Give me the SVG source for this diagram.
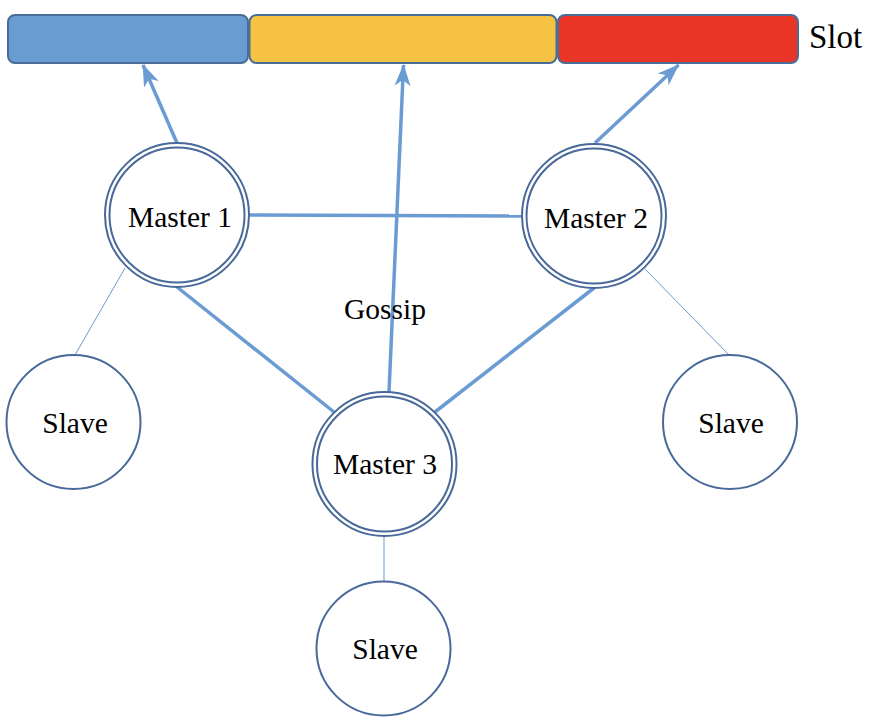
<svg xmlns="http://www.w3.org/2000/svg" width="874" height="724" viewBox="0 0 874 724">
<defs>
<style>
.bar{stroke:#4a6d98;stroke-width:2}
.ring{fill:#fff;stroke:#48699a;stroke-width:2}
.ring2{fill:none;stroke:#48699a;stroke-width:2}
.thick{stroke:#6b9bd3;stroke-width:3.5;fill:none}
.thin{stroke:#6b9bd3;stroke-width:1;fill:none}
.lbl{font-family:"Liberation Serif","Times New Roman",serif;font-size:29.5px;fill:#000;text-anchor:middle}
.slot{font-family:"Liberation Serif","Times New Roman",serif;font-size:33px;fill:#000}
</style>
<marker id="ah" viewBox="0 0 22 16" refX="21" refY="8" markerWidth="22" markerHeight="16" orient="auto" markerUnits="userSpaceOnUse" overflow="visible">
<path d="M0,0 L22,8 L0,16 L6,8 z" fill="#6b9bd3"/>
</marker>
</defs>
<rect width="874" height="724" fill="#fff"/>
<g id="slots">
<rect class="bar" x="8" y="15" width="240" height="48" rx="7" fill="#699cd0"/>
<rect class="bar" x="249.5" y="15" width="307" height="48" rx="7" fill="#f5c243"/>
<rect class="bar" x="558" y="15" width="240" height="48" rx="7" fill="#e93525"/>
<text class="slot" x="809" y="48">Slot</text>
</g>
<g id="connectors">
<line class="thin" x1="125" y1="268" x2="75" y2="355"/>
<line class="thin" x1="645" y1="269" x2="729" y2="355"/>
<line class="thin" x1="384" y1="537" x2="384" y2="582"/>
<line class="thick" x1="249" y1="215" x2="522" y2="216"/>
<line class="thick" x1="177" y1="287" x2="334" y2="412"/>
<line class="thick" x1="594" y1="288" x2="435" y2="412"/>
<line class="thick" x1="389" y1="392" x2="403.5" y2="65" marker-end="url(#ah)"/>
<line class="thick" x1="177" y1="143" x2="143" y2="65" marker-end="url(#ah)"/>
<line class="thick" x1="595" y1="143" x2="678.5" y2="65" marker-end="url(#ah)"/>
<text class="lbl" x="385" y="319">Gossip</text>
</g>
<g id="master1">
<circle class="ring" cx="177" cy="215" r="72"/>
<circle class="ring2" cx="177" cy="215" r="67.5"/>
<text class="lbl" x="180" y="227">Master 1</text>
</g>
<g id="master2">
<circle class="ring" cx="594" cy="216" r="72"/>
<circle class="ring2" cx="594" cy="216" r="67.5"/>
<text class="lbl" x="596" y="228">Master 2</text>
</g>
<g id="master3">
<circle class="ring" cx="384.5" cy="464" r="72"/>
<circle class="ring2" cx="384.5" cy="464" r="67.5"/>
<text class="lbl" x="385" y="474">Master 3</text>
</g>
<g id="slave1">
<circle class="ring" cx="73.5" cy="422" r="67"/>
<text class="lbl" x="75" y="432.5">Slave</text>
</g>
<g id="slave2">
<circle class="ring" cx="730" cy="422" r="67"/>
<text class="lbl" x="731" y="432.5">Slave</text>
</g>
<g id="slave3">
<circle class="ring" cx="383.5" cy="648.5" r="67"/>
<text class="lbl" x="385" y="659">Slave</text>
</g>
</svg>
